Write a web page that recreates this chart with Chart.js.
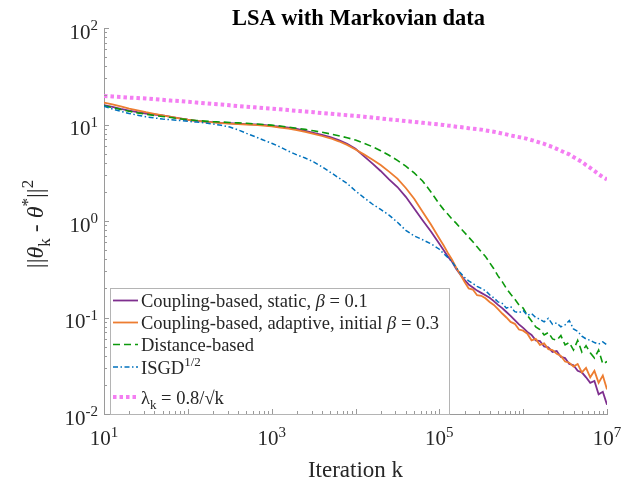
<!DOCTYPE html>
<html>
<head>
<meta charset="utf-8">
<title>LSA with Markovian data</title>
<script src="https://cdn.jsdelivr.net/npm/chart.js@4.4.1/dist/chart.umd.min.js"></script>
<style>
  html, body { margin: 0; padding: 0; background: #fff; }
  canvas { display: block; }
</style>
</head>
<body>
<canvas id="chart-area" width="642" height="485"></canvas>
<script>
// iteration exponents (k = 10^e)
var logK = [1.0, 1.1, 1.2, 1.3, 1.4, 1.5, 1.6, 1.7, 1.8, 1.9,
    2.0, 2.1, 2.2, 2.3, 2.4, 2.5, 2.6, 2.7, 2.8, 2.9,
    3.0, 3.1, 3.2, 3.3, 3.4, 3.5, 3.6, 3.7, 3.8, 3.9,
    4.0, 4.1, 4.2, 4.3, 4.4, 4.5, 4.6, 4.7, 4.8, 4.9,
    5.0,
    5.05, 5.1, 5.15, 5.2, 5.25, 5.3, 5.35, 5.4, 5.45, 5.5,
    5.55, 5.6, 5.65, 5.7, 5.75, 5.8, 5.85, 5.9, 5.95, 6.0,
    6.05, 6.1, 6.15, 6.2, 6.25, 6.3, 6.35, 6.4, 6.45, 6.5,
    6.55, 6.6, 6.65, 6.7, 6.75, 6.8, 6.85, 6.9, 6.95, 7.0];

var staticCoupling = [15.9, 15.2, 14.5, 13.9, 13.4, 13.0, 12.7, 12.4, 12.0, 11.6,
    11.2, 10.9, 10.7, 10.6, 10.4, 10.3, 10.2, 10.1, 10.0, 9.9,
    9.7, 9.5, 9.3, 9.0, 8.6, 8.2, 7.8, 7.4, 6.9, 6.3,
    5.6, 4.7, 3.95, 3.3, 2.7, 2.25, 1.78, 1.35, 1.02, 0.78,
    0.58,
    0.50, 0.43, 0.38, 0.32, 0.28, 0.245, 0.22, 0.205, 0.19, 0.18,
    0.17, 0.16, 0.148, 0.135, 0.125, 0.114, 0.104, 0.094, 0.085, 0.078,
    0.071, 0.066, 0.058, 0.057, 0.050, 0.049, 0.044, 0.045, 0.039, 0.038,
    0.033, 0.032, 0.028, 0.027, 0.024, 0.021, 0.022, 0.016, 0.017, 0.0125];

var adaptiveCoupling = [16.9, 16.2, 15.4, 14.6, 14.0, 13.4, 12.9, 12.4, 12.0, 11.6,
    11.2, 10.9, 10.7, 10.5, 10.35, 10.2, 10.1, 10.0, 9.9, 9.75,
    9.55, 9.3, 9.05, 8.75, 8.4, 8.0, 7.6, 7.2, 6.7, 6.15,
    5.5, 4.9, 4.35, 3.8, 3.25, 2.75, 2.2, 1.7, 1.25, 0.92,
    0.66,
    0.56, 0.47, 0.40, 0.33, 0.28, 0.235, 0.20, 0.195, 0.17, 0.168,
    0.158, 0.145, 0.135, 0.122, 0.110, 0.100, 0.090, 0.086, 0.075, 0.073,
    0.068, 0.058, 0.060, 0.052, 0.054, 0.047, 0.046, 0.042, 0.040, 0.035,
    0.034, 0.031, 0.033, 0.027, 0.030, 0.024, 0.028, 0.021, 0.025, 0.018];

var distanceBased = [15.6, 15.0, 14.3, 13.7, 13.2, 12.8, 12.4, 12.1, 11.8, 11.5,
    11.2, 11.0, 10.85, 10.7, 10.6, 10.5, 10.4, 10.3, 10.15, 10.0,
    9.85, 9.65, 9.4, 9.15, 8.9, 8.6, 8.3, 8.0, 7.65, 7.3,
    6.9, 6.4, 5.9, 5.35, 4.8, 4.25, 3.7, 3.15, 2.6, 2.0,
    1.5,
    1.32, 1.18, 1.05, 0.95, 0.85, 0.76, 0.68, 0.61, 0.54, 0.48,
    0.43, 0.37, 0.32, 0.27, 0.235, 0.20, 0.175, 0.155, 0.135, 0.125,
    0.105, 0.092, 0.080, 0.075, 0.066, 0.070, 0.060, 0.058, 0.065, 0.052,
    0.055, 0.046, 0.058, 0.044, 0.051, 0.043, 0.038, 0.046, 0.033, 0.035];

var isgd = [15.5, 14.5, 13.7, 13.0, 12.5, 12.0, 11.7, 11.4, 11.2, 11.0,
    10.8, 10.6, 10.4, 10.1, 9.8, 9.4, 8.8, 8.1, 7.5, 6.9,
    6.4, 5.85, 5.3, 4.85, 4.5, 4.1, 3.65, 3.2, 2.8, 2.45,
    2.05, 1.75, 1.5, 1.32, 1.15, 0.97, 0.80, 0.70, 0.64, 0.58,
    0.51,
    0.46, 0.42, 0.38, 0.33, 0.29, 0.26, 0.24, 0.225, 0.21, 0.20,
    0.19, 0.172, 0.16, 0.145, 0.14, 0.125, 0.13, 0.115, 0.112, 0.118,
    0.105, 0.11, 0.10, 0.096, 0.09, 0.098, 0.085, 0.088, 0.080, 0.084,
    0.093, 0.076, 0.072, 0.064, 0.060, 0.058, 0.055, 0.053, 0.056, 0.052];

var stepBound = [19.8, 19.5, 19.3, 19.0, 18.8, 18.6, 18.3, 18.0, 17.7, 17.5,
    17.2, 16.9, 16.6, 16.3, 16.1, 15.8, 15.55, 15.3, 15.05, 14.8,
    14.6, 14.35, 14.1, 13.85, 13.6, 13.4, 13.15, 12.95, 12.7, 12.5,
    12.3, 12.05, 11.8, 11.55, 11.3, 11.1, 10.85, 10.65, 10.4, 10.2,
    10.0,
    9.9, 9.75, 9.65, 9.5, 9.4, 9.3, 9.15, 9.05, 8.95, 8.85,
    8.7, 8.55, 8.4, 8.25, 8.05, 7.9, 7.7, 7.55, 7.4, 7.25,
    7.1, 6.9, 6.7, 6.5, 6.3, 6.05, 5.85, 5.6, 5.35, 5.1,
    4.9, 4.6, 4.35, 4.1, 3.8, 3.55, 3.3, 3.05, 2.85, 2.7];

var seriesNames = [
    'Coupling-based, static, β = 0.1',
    'Coupling-based, adaptive, initial β = 0.3',
    'Distance-based',
    'ISGD^{1/2}',
    'λ_{k} = 0.8/√k'
];

var xTickValues = [1e1, 1e3, 1e5, 1e7];
var xTickLabels = ['10^{1}', '10^{3}', '10^{5}', '10^{7}'];
var yTickValues = [1e-2, 1e-1, 1e0, 1e1, 1e2];
var yTickLabels = ['10^{-2}', '10^{-1}', '10^{0}', '10^{1}', '10^{2}'];

var titleText = 'LSA with Markovian data';
var xTitle = 'Iteration k';
var yTitle = '||θ_{k} - θ^{*}||^{2}';

var serif = '"Liberation Serif", "Times New Roman", serif';
var axisColor = '#9a9a9a';
var textColor = '#262626';

function toPoints(values) {
    return values.map(function (v, i) {
        return {x: Math.pow(10, logK[i]), y: v};
    });
}

// tiny tex-like text: ^{..} superscript, _{..} subscript, greek italics
function parseRich(str) {
    var segs = [], buf = '', i = 0;
    while (i < str.length) {
        var c = str[i];
        if ((c === '^' || c === '_') && str[i + 1] === '{') {
            if (buf) { segs.push({t: buf, m: 'n'}); buf = ''; }
            var end = str.indexOf('}', i);
            segs.push({t: str.slice(i + 2, end), m: c === '^' ? 'sup' : 'sub'});
            i = end + 1;
        } else {
            buf += c;
            i++;
        }
    }
    if (buf) segs.push({t: buf, m: 'n'});
    return segs;
}

function drawRich(ctx, str, x, y, size, align) {
    var runs = [];
    parseRich(str).forEach(function (s) {
        var fs = s.m === 'n' ? size : Math.round(size * 0.7);
        var dy = s.m === 'sup' ? -size * 0.4 : (s.m === 'sub' ? size * 0.3 : 0);
        s.t.split(/([βθ])/).forEach(function (p) {
            if (!p) return;
            var it = /[βθ]/.test(p) ? 'italic ' : '';
            runs.push({t: p, font: it + fs + 'px ' + serif, dy: dy});
        });
    });
    var w = 0;
    runs.forEach(function (r) {
        ctx.font = r.font;
        r.w = ctx.measureText(r.t).width;
        w += r.w;
    });
    var cx = align === 'center' ? x - w / 2 : (align === 'right' ? x - w : x);
    ctx.textAlign = 'left';
    ctx.textBaseline = 'alphabetic';
    runs.forEach(function (r) {
        ctx.font = r.font;
        ctx.fillText(r.t, cx, y + r.dy);
        cx += r.w;
    });
}

var decorPlugin = {
    id: 'decor',
    afterDraw: function (chart) {
        var ctx = chart.ctx;
        var xs = chart.scales.x, ys = chart.scales.y;
        var a = chart.chartArea;
        ctx.save();

        // legend box
        var lx = a.left + 6, ly = 288, lw = 339, lh = 126;
        ctx.fillStyle = '#fff';
        ctx.fillRect(lx, ly, lw, lh);
        ctx.strokeStyle = '#b4b4b4';
        ctx.lineWidth = 1;
        ctx.strokeRect(lx + 0.5, ly + 0.5, lw, lh);
        var rowGaps = [12.5, 22, 22, 22.5, 30];
        var rowY = ly;
        chart.data.datasets.forEach(function (ds, i) {
            rowY += rowGaps[i];
            ctx.save();
            ctx.strokeStyle = ds.borderColor;
            ctx.lineWidth = ds.borderWidth;
            ctx.setLineDash(ds.borderDash || []);
            ctx.lineCap = 'butt';
            ctx.beginPath();
            ctx.moveTo(lx + 3, rowY);
            ctx.lineTo(lx + 28, rowY);
            ctx.stroke();
            ctx.restore();
            ctx.fillStyle = textColor;
            drawRich(ctx, ds.label, lx + 31, rowY + 6.5, 18.5, 'left');
        });

        // inward ticks, major and minor
        ctx.strokeStyle = axisColor;
        ctx.lineWidth = 1;
        ctx.beginPath();
        for (var e = 1; e <= 7; e++) {
            for (var m = 1; m <= 9; m++) {
                var v = m * Math.pow(10, e);
                if (v > 1e7) break;
                var px = Math.round(xs.getPixelForValue(v)) + 0.5;
                var len = m === 1 ? 5 : 3;
                ctx.moveTo(px, a.bottom);
                ctx.lineTo(px, a.bottom - len);
            }
        }
        for (var ey = -2; ey <= 2; ey++) {
            for (var my = 1; my <= 9; my++) {
                var vy = my * Math.pow(10, ey);
                if (vy > 100) break;
                var py = Math.round(ys.getPixelForValue(vy)) + 0.5;
                var leny = my === 1 ? 5 : 3;
                ctx.moveTo(a.left, py);
                ctx.lineTo(a.left + leny, py);
            }
        }
        ctx.stroke();

        // tick labels
        ctx.fillStyle = textColor;
        xTickValues.forEach(function (v, i) {
            drawRich(ctx, xTickLabels[i], xs.getPixelForValue(v), a.bottom + 31, 21, 'center');
        });
        yTickValues.forEach(function (v, i) {
            drawRich(ctx, yTickLabels[i], a.left - 6, ys.getPixelForValue(v) + 10.5, 21, 'right');
        });

        // axis titles and chart title
        drawRich(ctx, xTitle, (a.left + a.right) / 2, 477, 23, 'center');
        ctx.save();
        ctx.translate(43, (a.top + a.bottom) / 2 + 3);
        ctx.rotate(-Math.PI / 2);
        drawRich(ctx, yTitle, 0, 0, 24, 'center');
        ctx.restore();
        ctx.fillStyle = '#000';
        ctx.font = 'bold 22.5px ' + serif;
        ctx.textAlign = 'center';
        ctx.textBaseline = 'alphabetic';
        ctx.fillText(titleText, (a.left + a.right) / 2 + 3, 25);
        ctx.restore();
    }
};

var seriesValues = [staticCoupling, adaptiveCoupling, distanceBased, isgd, stepBound];
var seriesColors = ['#7E2F8E', '#ED7D31', '#0C990C', '#0072BD', '#F47EF2'];
var seriesWidths = [1.8, 1.8, 1.6, 1.5, 4];
var seriesDashes = [[], [], [7, 4], [5, 2.5, 1.5, 2.5], [3.5, 3]];

var datasets = seriesValues.map(function (vals, i) {
    return {
        label: seriesNames[i],
        data: toPoints(vals),
        borderColor: seriesColors[i],
        backgroundColor: seriesColors[i],
        borderWidth: seriesWidths[i],
        borderDash: seriesDashes[i],
        pointRadius: 0,
        tension: 0,
        fill: false,
        order: seriesValues.length - i
    };
});

var config = {
    type: 'line',
    data: {datasets: datasets},
    options: {
        responsive: false,
        animation: false,
        devicePixelRatio: 1,
        layout: {padding: {left: 96, right: 35, top: 28, bottom: 63}},
        plugins: {
            legend: {display: false},
            title: {display: false},
            tooltip: {enabled: false}
        },
        scales: {
            x: {
                type: 'logarithmic',
                min: 10,
                max: 1e7,
                grid: {display: false},
                border: {display: true, color: axisColor, width: 1},
                ticks: {display: false}
            },
            y: {
                type: 'logarithmic',
                min: 0.01,
                max: 100,
                grid: {display: false},
                border: {display: true, color: axisColor, width: 1},
                ticks: {display: false}
            }
        }
    },
    plugins: [decorPlugin]
};

var ctx = document.getElementById('chart-area').getContext('2d');
var myChart = new Chart(ctx, config);
</script>
</body>
</html>
